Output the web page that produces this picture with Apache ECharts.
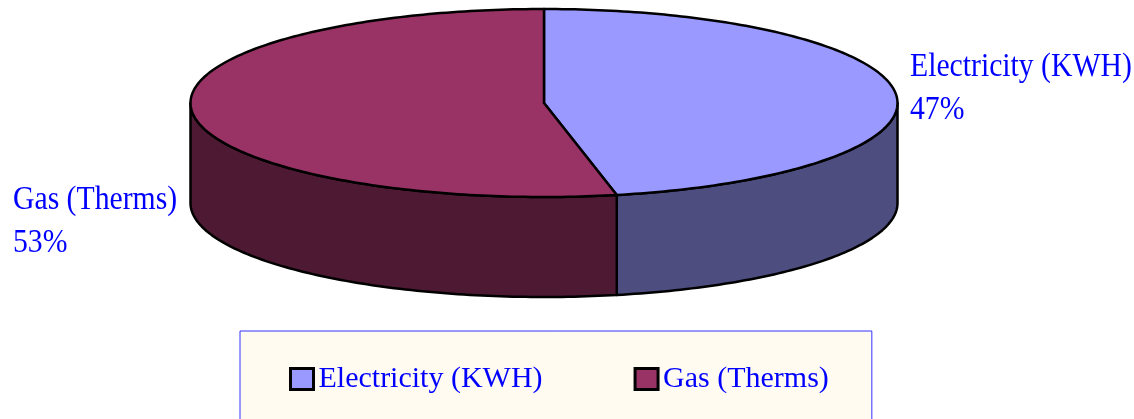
<!DOCTYPE html>
<html>
<head>
<meta charset="utf-8">
<style>
  html, body { margin: 0; padding: 0; background: #fff; }
  #chart { width: 1134px; height: 419px; }
</style>
<script src="https://cdn.jsdelivr.net/npm/echarts@6/dist/echarts.min.js"></script>
</head>
<body>
<div id="chart"></div>
<script>
const categories = ['Electricity (KWH)', 'Gas (Therms)']
const shares = [46.7, 53.3]
const topColors = ['#9999ff', '#993366']
const wallColors = ['#4d4d80', '#4d1933']

// ellipse of the top face, and how far the wall drops
const cx = 544
const cy = 103
const rx = 353.5
const ry = 94
const depth = 100
const labelAnchors = [[910, 51], [13, 184]]
const lineGap = 43
const labelFont = '33px "Liberation Serif"'
const labelColor = '#0000ff'

const total = shares.reduce((a, b) => a + b, 0)

function rimPoint(deg, drop) {
  const a = deg * Math.PI / 180
  return [cx + rx * Math.sin(a), cy - ry * Math.cos(a) + drop]
}

function arc(from, to, drop) {
  const pts = []
  const steps = Math.max(2, Math.ceil(Math.abs(to - from)))
  for (let i = 0; i <= steps; i++) {
    pts.push(rimPoint(from + (to - from) * i / steps, drop))
  }
  return pts
}

function sliceRenderer(index) {
  return function (params, api) {
    const before = shares.slice(0, index).reduce((a, b) => a + b, 0)
    const start = before / total * 360
    const end = start + api.value(0) / total * 360
    const edge = { stroke: '#000', lineWidth: 2.5, lineJoin: 'round' }
    const children = []

    // only the front half of the rim (90..270 deg) has a visible wall
    const wallFrom = Math.max(start, 90)
    const wallTo = Math.min(end, 270)
    if (wallTo > wallFrom) {
      const upper = arc(wallFrom, wallTo, 0)
      const lower = arc(wallTo, wallFrom, depth)
      children.push({
        type: 'polygon',
        shape: { points: upper.concat(lower) },
        style: Object.assign({ fill: wallColors[index] }, edge)
      })
    }
    children.push({
      type: 'polygon',
      shape: { points: [[cx, cy]].concat(arc(start, end, 0)) },
      style: Object.assign({ fill: topColors[index] }, edge)
    })

    const percent = Math.round(api.value(0) / total * 100) + '%'
    const [lx, ly] = labelAnchors[index]
    ;[categories[index], percent].forEach((text, i) => {
      children.push({
        type: 'text',
        x: lx,
        y: ly + i * lineGap,
        scaleX: 0.9,
        style: { text, font: labelFont, fill: labelColor, textVerticalAlign: 'alphabetic' }
      })
    })
    return { type: 'group', children }
  }
}

const chart = echarts.init(document.getElementById('chart'))
chart.setOption({
  animation: false,
  backgroundColor: '#ffffff',
  legend: {
    left: 240,
    top: 331,
    icon: 'rect',
    itemWidth: 23,
    itemHeight: 21,
    itemGap: 91,
    padding: [33, 43, 60, 49],
    backgroundColor: '#fffbf0',
    borderColor: '#3333ff',
    borderWidth: 1,
    selectedMode: false,
    itemStyle: { borderColor: '#000', borderWidth: 3 },
    textStyle: { fontFamily: 'Liberation Serif', fontSize: 30, color: labelColor },
    data: categories
  },
  series: categories.map((name, i) => ({
    type: 'custom',
    name,
    coordinateSystem: 'none',
    itemStyle: { color: topColors[i] },
    renderItem: sliceRenderer(i),
    data: [[shares[i]]]
  }))
})
</script>
</body>
</html>
